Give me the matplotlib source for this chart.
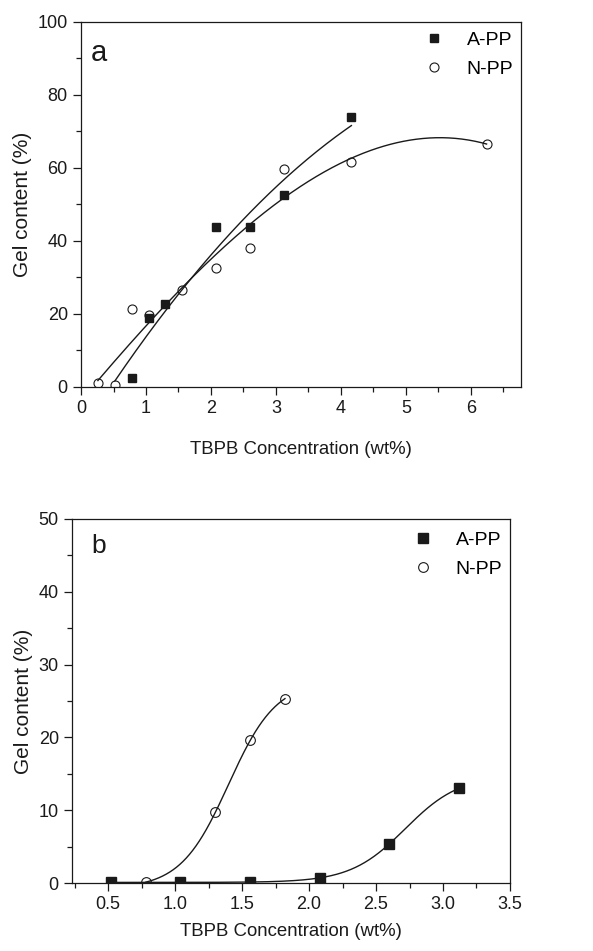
import numpy as np
import matplotlib
matplotlib.use("Agg")
import matplotlib.pyplot as plt
from matplotlib.ticker import MultipleLocator

plt.rcParams['font.family'] = ['Liberation Sans', 'DejaVu Sans']

# ---- Panel a data ----
a_app_x = [0.78, 1.04, 1.30, 2.08, 2.60, 3.12, 4.16]
a_app_y = [2.5, 18.9, 22.6, 43.7, 43.7, 52.5, 73.9]
a_npp_x = [0.26, 0.52, 0.78, 1.04, 1.56, 2.08, 2.60, 3.12, 4.16, 6.24]
a_npp_y = [1.1, 0.5, 21.4, 19.8, 26.6, 32.7, 38.2, 59.7, 61.5, 66.5]
a_app_fit_range = [0.52, 4.16]

# ---- Panel b data ----
b_app_x = [0.52, 1.04, 1.56, 2.08, 2.60, 3.12]
b_app_y = [0.1, 0.1, 0.1, 0.7, 5.4, 13.0]
b_npp_x = [0.78, 1.30, 1.56, 1.82]
b_npp_y = [0.1, 9.7, 19.6, 25.3]

legend_labels = ['A-PP', 'N-PP']


def boltzmann_fit(x, y):
    x = np.asarray(x, float); y = np.asarray(y, float)
    best = None
    for x0 in np.linspace(x.min(), x.max() + 0.5, 300):
        for dx in np.linspace(0.03, 0.6, 200):
            s = 1.0 / (1.0 + np.exp((x - x0) / dx))
            M = np.column_stack([s, 1 - s])
            coef, *_ = np.linalg.lstsq(M, y, rcond=None)
            r = np.sum((M @ coef - y) ** 2)
            if best is None or r < best[0]:
                best = (r, x0, dx, coef)
    _, x0, dx, (A1, A2) = best
    return lambda t: A2 + (A1 - A2) / (1.0 + np.exp((t - x0) / dx))


fig = plt.figure(figsize=(5.93, 9.51), dpi=100)
ax1 = fig.add_axes([0.1366, 0.5931, 0.742, 0.3838])
ax2 = fig.add_axes([0.1214, 0.0715, 0.7386, 0.3828])

# Panel a
p_app = np.polyfit(a_app_x, a_app_y, 2)
p_npp = np.polyfit(a_npp_x, a_npp_y, 3)
xa = np.linspace(a_app_fit_range[0], a_app_fit_range[1], 200)
xn = np.linspace(min(a_npp_x), max(a_npp_x), 300)
ax1.plot(xa, np.polyval(p_app, xa), color='#1a1a1a', lw=1.0, zorder=2)
ax1.plot(xn, np.polyval(p_npp, xn), color='#1a1a1a', lw=1.0, zorder=2)
ax1.plot(a_app_x, a_app_y, 's', color='#1a1a1a', ms=5.8, ls='none', label=legend_labels[0], zorder=3)
ax1.plot(a_npp_x, a_npp_y, 'o', mfc='none', mec='#1a1a1a', mew=0.8, ms=6.5, ls='none', label=legend_labels[1], zorder=3)
ax1.set_xlim(0, 6.77)
ax1.set_ylim(0, 100)
ax1.xaxis.set_major_locator(MultipleLocator(1))
ax1.xaxis.set_minor_locator(MultipleLocator(0.5))
ax1.yaxis.set_major_locator(MultipleLocator(20))
ax1.yaxis.set_minor_locator(MultipleLocator(10))
ax1.text(0.022, 0.915, 'a', transform=ax1.transAxes, fontsize=21, va='center', ha='left', color='#1a1a1a')

# Panel b
fb_n = boltzmann_fit(b_npp_x, b_npp_y)
fb_a = boltzmann_fit(b_app_x, b_app_y)
xbn = np.linspace(min(b_npp_x), max(b_npp_x), 300)
xba = np.linspace(min(b_app_x), max(b_app_x), 300)
ax2.plot(xbn, fb_n(xbn), color='#1a1a1a', lw=1.0, zorder=2)
ax2.plot(xba, fb_a(xba), color='#1a1a1a', lw=1.0, zorder=2)
ax2.plot(b_app_x, b_app_y, 's', color='#1a1a1a', ms=6.5, ls='none', label=legend_labels[0], zorder=3)
ax2.plot(b_npp_x, b_npp_y, 'o', mfc='none', mec='#1a1a1a', mew=0.8, ms=7, ls='none', label=legend_labels[1], zorder=3)
ax2.set_xlim(0.23, 3.5)
ax2.set_ylim(0, 50)
ax2.xaxis.set_major_locator(MultipleLocator(0.5))
ax2.xaxis.set_minor_locator(MultipleLocator(0.25))
ax2.yaxis.set_major_locator(MultipleLocator(10))
ax2.yaxis.set_minor_locator(MultipleLocator(5))
ax2.text(0.045, 0.925, 'b', transform=ax2.transAxes, fontsize=19, va='center', ha='left', color='#1a1a1a')

for ax, xpad, leg_y in ((ax1, 17, 0.995), (ax2, 7, 0.988)):
    ax.set_xlabel('TBPB Concentration (wt%)', fontsize=13.4, color='#1a1a1a', labelpad=xpad)
    ax.set_ylabel('Gel content (%)', fontsize=15, color='#1a1a1a', labelpad=4)
    ax.tick_params(which='both', direction='out', top=False, right=False, colors='#1a1a1a', labelsize=13)
    ax.tick_params(which='major', length=6, width=0.9)
    ax.tick_params(which='minor', length=3.5, width=0.9)
    for s in ax.spines.values():
        s.set_linewidth(0.9)
        s.set_color('#1a1a1a')
    leg = ax.legend(loc='upper right', bbox_to_anchor=(1.0, leg_y), frameon=False, fontsize=14,
                    handletextpad=1.2, labelspacing=0.58, borderaxespad=0.0, handlelength=1.0)

fig.savefig('out.png', dpi=100)
